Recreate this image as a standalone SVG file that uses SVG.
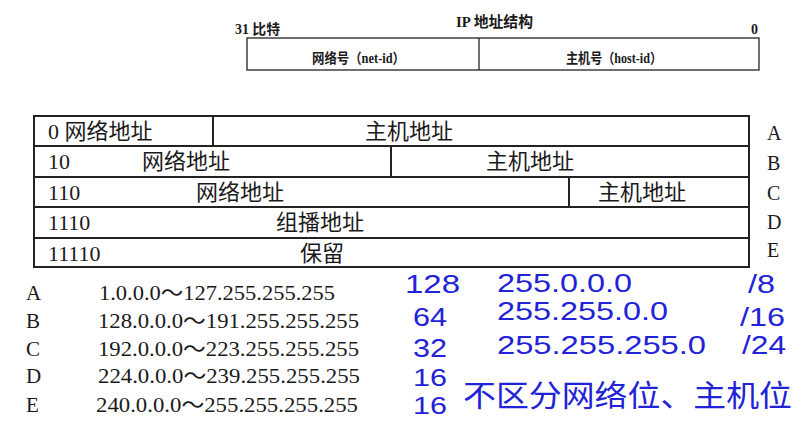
<svg xmlns="http://www.w3.org/2000/svg" width="804" height="424" viewBox="0 0 804 424">
<style>
.ser{font-family:"Liberation Serif","Noto Sans CJK SC",serif;fill:#1a1a1a}
.b{font-weight:bold}
.line{stroke:#222;stroke-width:2;fill:none}
.thin{stroke:#222;stroke-width:1.3;fill:none}
.blue{font-family:"Liberation Sans","Noto Sans CJK SC",sans-serif;fill:#2222d6}
.cell{font-size:22px}
</style>
<rect width="804" height="424" fill="#fff"/>
<g id="ip-structure">
  <text class="ser b" x="235" y="34" font-size="14" textLength="45" lengthAdjust="spacingAndGlyphs">31 比特</text>
  <text class="ser b" x="456" y="27" font-size="15" textLength="77" lengthAdjust="spacingAndGlyphs">IP 地址结构</text>
  <text class="ser b" x="751" y="34" font-size="14">0</text>
  <rect class="thin" x="247" y="38" width="512" height="32"/>
  <line class="thin" x1="479" y1="38" x2="479" y2="70"/>
  <text class="ser b" x="312" y="63" font-size="14" textLength="93" lengthAdjust="spacingAndGlyphs">网络号（net-id）</text>
  <text class="ser b" x="566" y="63" font-size="14" textLength="96" lengthAdjust="spacingAndGlyphs">主机号（host-id）</text>
</g>
<g id="class-table">
  <rect class="line" x="34" y="116" width="715" height="151"/>
  <line class="line" x1="34" y1="146" x2="749" y2="146"/>
  <line class="line" x1="34" y1="177" x2="749" y2="177"/>
  <line class="line" x1="34" y1="207" x2="749" y2="207"/>
  <line class="line" x1="34" y1="238" x2="749" y2="238"/>
  <line class="line" x1="213" y1="116" x2="213" y2="146"/>
  <line class="line" x1="391" y1="146" x2="391" y2="177"/>
  <line class="line" x1="569" y1="177" x2="569" y2="207"/>
  <g class="ser cell">
    <text x="48" y="139">0 网络地址</text>
    <text x="365" y="139">主机地址</text>
    <text x="48" y="169">10</text>
    <text x="142" y="169">网络地址</text>
    <text x="486" y="169">主机地址</text>
    <text x="48" y="200">110</text>
    <text x="196" y="200">网络地址</text>
    <text x="598" y="200">主机地址</text>
    <text x="48" y="230">1110</text>
    <text x="276" y="230">组播地址</text>
    <text x="48" y="261">11110</text>
    <text x="300" y="261">保留</text>
  </g>
  <g class="ser" font-size="20">
    <text x="767" y="140">A</text>
    <text x="767" y="170">B</text>
    <text x="767" y="200">C</text>
    <text x="767" y="229">D</text>
    <text x="767" y="257">E</text>
  </g>
</g>
<g id="ranges" class="ser" font-size="21">
  <text x="26" y="300">A</text>
  <text x="26" y="328">B</text>
  <text x="26" y="356">C</text>
  <text x="26" y="383">D</text>
  <text x="26" y="412">E</text>
  <text x="99" y="300" textLength="236" lengthAdjust="spacingAndGlyphs">1.0.0.0～127.255.255.255</text>
  <text x="98" y="328" textLength="261" lengthAdjust="spacingAndGlyphs">128.0.0.0～191.255.255.255</text>
  <text x="98" y="356" textLength="261" lengthAdjust="spacingAndGlyphs">192.0.0.0～223.255.255.255</text>
  <text x="98" y="383" textLength="262" lengthAdjust="spacingAndGlyphs">224.0.0.0～239.255.255.255</text>
  <text x="96" y="412" textLength="262" lengthAdjust="spacingAndGlyphs">240.0.0.0～255.255.255.255</text>
</g>
<g id="annotations" class="blue" font-size="26">
  <text x="405" y="293" textLength="55" lengthAdjust="spacingAndGlyphs">128</text>
  <text x="497" y="292" textLength="135" lengthAdjust="spacingAndGlyphs">255.0.0.0</text>
  <text x="748" y="293" textLength="27" lengthAdjust="spacingAndGlyphs">/8</text>
  <text x="413" y="326" textLength="34" lengthAdjust="spacingAndGlyphs">64</text>
  <text x="497" y="320" textLength="171" lengthAdjust="spacingAndGlyphs">255.255.0.0</text>
  <text x="740" y="326" textLength="45" lengthAdjust="spacingAndGlyphs">/16</text>
  <text x="413" y="357" textLength="34" lengthAdjust="spacingAndGlyphs">32</text>
  <text x="497" y="354" textLength="209" lengthAdjust="spacingAndGlyphs">255.255.255.0</text>
  <text x="742" y="354" textLength="44" lengthAdjust="spacingAndGlyphs">/24</text>
  <text x="413" y="386" font-size="24" textLength="34" lengthAdjust="spacingAndGlyphs">16</text>
  <text x="413" y="414" font-size="24" textLength="34" lengthAdjust="spacingAndGlyphs">16</text>
  <text x="463" y="406" font-size="30" textLength="329" lengthAdjust="spacingAndGlyphs">不区分网络位、主机位</text>
</g>
</svg>
